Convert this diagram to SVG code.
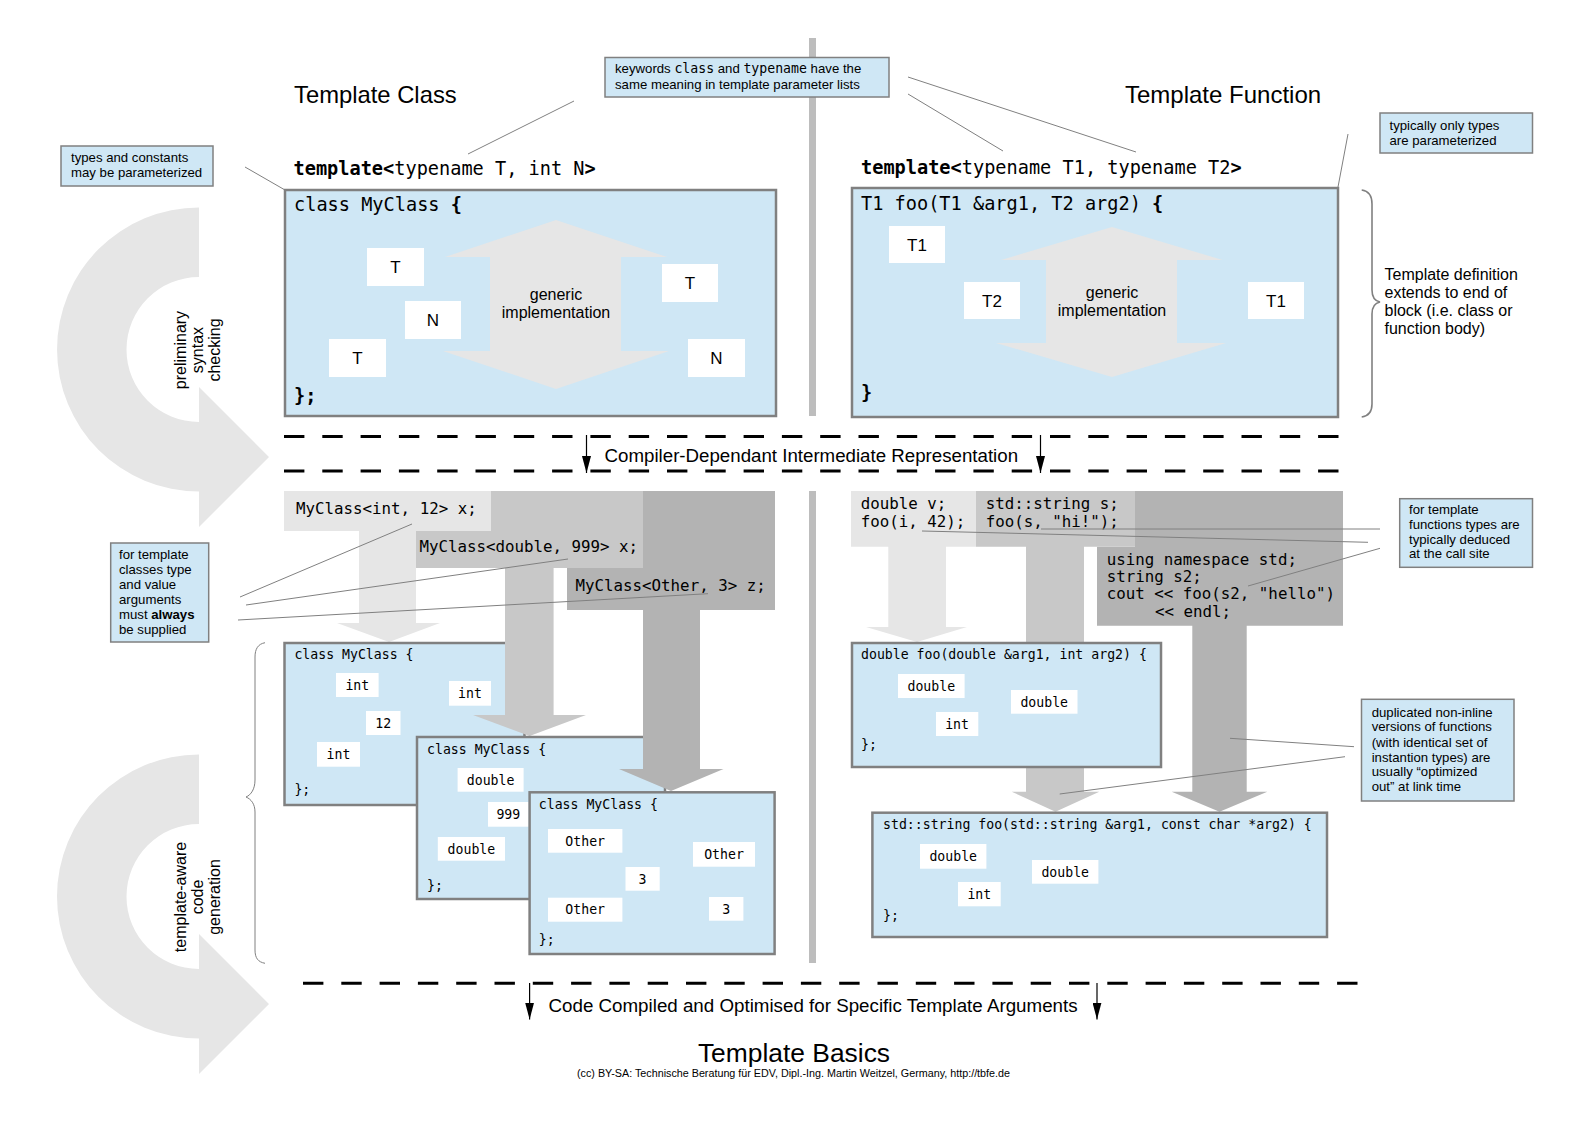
<svg xmlns="http://www.w3.org/2000/svg" width="1588" height="1123" viewBox="0 0 1588 1123">
<style>
.note{fill:#cfe7f5;stroke:#808080;stroke-width:1.5}
.box{fill:#cfe7f5;stroke:#808080;stroke-width:2.5}
.wb{fill:#fff}
.sans{font-family:"Liberation Sans",Arial,sans-serif;fill:#000}
.nt{font-family:"Liberation Sans",Arial,sans-serif;font-size:13.2px;fill:#000}
.mono{font-family:"DejaVu Sans Mono","Liberation Mono",monospace;fill:#000}
.big{font-size:18.6px}
.mid{font-size:15.8px}
.sm{font-size:13.2px}
.lbl{font-family:"Liberation Sans",Arial,sans-serif;font-size:17px;text-anchor:middle}
.ml{font-family:"DejaVu Sans Mono","Liberation Mono",monospace;font-size:13.2px;text-anchor:middle}
.con{stroke:#808080;stroke-width:1;fill:none}
.dash{stroke:#000;stroke-width:3;stroke-dasharray:20.4 17.9;fill:none}
.arr{stroke:#000;stroke-width:1.2;fill:none}
.g1{fill:#e6e6e6}
.g2{fill:#c8c8c8}
.g3{fill:#b3b3b3}
.b{font-weight:bold}
</style>
<defs>
<marker id="ah" viewBox="0 0 17 9" refX="17" refY="4.5" markerWidth="17" markerHeight="9" markerUnits="userSpaceOnUse" orient="auto">
<path d="M0,0 L17,4.5 L0,9 Z" fill="#000"/>
</marker>
</defs>
<rect width="1588" height="1123" fill="#fff"/>

<!-- dividers -->
<g id="dividers" fill="#bdbdbd">
<rect x="809" y="38" width="7" height="378"/>
<rect x="809" y="491" width="7" height="472"/>
</g>

<!-- left process arrows -->
<g id="arrow-syntax">
<path class="g1" d="M199,207.5 A142,142 0 0 0 199,491.5 L199,527 L269,457 L199,387 L199,422 A72.5,72.5 0 0 1 199,277 Z"/>
<text class="sans" font-size="16" text-anchor="middle" transform="translate(186,350) rotate(-90)">preliminary</text>
<text class="sans" font-size="16" text-anchor="middle" transform="translate(203,350) rotate(-90)">syntax</text>
<text class="sans" font-size="16" text-anchor="middle" transform="translate(220,350) rotate(-90)">checking</text>
</g>
<g id="arrow-codegen">
<path class="g1" d="M199,754.5 A142,142 0 0 0 199,1038.5 L199,1074 L269,1004 L199,934 L199,969 A72.5,72.5 0 0 1 199,824 Z"/>
<text class="sans" font-size="16" text-anchor="middle" transform="translate(186,897) rotate(-90)">template-aware</text>
<text class="sans" font-size="16" text-anchor="middle" transform="translate(203,897) rotate(-90)">code</text>
<text class="sans" font-size="16" text-anchor="middle" transform="translate(220,897) rotate(-90)">generation</text>
</g>

<!-- titles -->
<g id="titles">
<text class="sans" x="294" y="103" font-size="23.8">Template Class</text>
<text class="sans" x="1125" y="103" font-size="24">Template Function</text>
<text class="sans" x="794" y="1061.5" font-size="26.4" text-anchor="middle">Template Basics</text>
<text class="sans" x="793.5" y="1076.5" font-size="10" text-anchor="middle" textLength="433" lengthAdjust="spacingAndGlyphs">(cc) BY-SA: Technische Beratung für EDV, Dipl.-Ing. Martin Weitzel, Germany, http://tbfe.de</text>
</g>

<!-- notes -->
<g id="note-keywords">
<rect class="note" x="605" y="57.5" width="284" height="39.5"/>
<text class="nt" x="615" y="73">keywords <tspan class="mono">class</tspan> and <tspan class="mono">typename</tspan> have the</text>
<text class="nt" x="615" y="88.5">same meaning in template parameter lists</text>
</g>
<g id="note-types-constants">
<rect class="note" x="61" y="146" width="152" height="40"/>
<text class="nt" x="71" y="162">types and constants</text>
<text class="nt" x="71" y="177">may be parameterized</text>
</g>
<g id="note-only-types">
<rect class="note" x="1380" y="113" width="152.5" height="40"/>
<text class="nt" x="1389.5" y="130">typically only types</text>
<text class="nt" x="1389.5" y="145">are parameterized</text>
</g>
<g id="note-class-args">
<rect class="note" x="110.7" y="543" width="98" height="99"/>
<text class="nt" x="119" y="559">for template</text>
<text class="nt" x="119" y="574">classes type</text>
<text class="nt" x="119" y="589">and value</text>
<text class="nt" x="119" y="604">arguments</text>
<text class="nt" x="119" y="619">must <tspan class="b">always</tspan></text>
<text class="nt" x="119" y="633.5">be supplied</text>
</g>
<g id="note-deduced">
<rect class="note" x="1399.7" y="498.7" width="132.8" height="68.6"/>
<text class="nt" x="1409" y="514">for template</text>
<text class="nt" x="1409" y="528.5">functions types are</text>
<text class="nt" x="1409" y="543.5">typically deduced</text>
<text class="nt" x="1409" y="558">at the call site</text>
</g>
<g id="note-duplicated">
<rect class="note" x="1361.5" y="699.3" width="152.5" height="101.7"/>
<text class="nt" x="1371.7" y="716.7">duplicated non-inline</text>
<text class="nt" x="1371.7" y="731.3">versions of functions</text>
<text class="nt" x="1371.7" y="746.7">(with identical set of</text>
<text class="nt" x="1371.7" y="761.7">instantion types) are</text>
<text class="nt" x="1371.7" y="776">usually “optimized</text>
<text class="nt" x="1371.7" y="790.5">out” at link time</text>
</g>

<!-- template class definition -->
<g id="template-class">
<text class="mono big" x="293.5" y="174.5"><tspan class="b">template&lt;</tspan>typename T, int N<tspan class="b">&gt;</tspan></text>
<rect class="box" x="285" y="190" width="491" height="226"/>
<text class="mono big" x="294" y="211">class MyClass <tspan class="b">{</tspan></text>
<text class="mono big b" x="294" y="402">};</text>
<path class="g1" d="M556,220 L667,257 L621,257 L621,351 L669,351 L556,389 L443,351 L490,351 L490,257 L445,257 Z"/>
<text class="sans" font-size="16" text-anchor="middle" x="556" y="300">generic</text>
<text class="sans" font-size="16" text-anchor="middle" x="556" y="318">implementation</text>
<rect class="wb" x="367" y="248" width="57" height="38"/><text class="lbl" x="395.5" y="273">T</text>
<rect class="wb" x="405" y="301" width="56" height="38"/><text class="lbl" x="433" y="326">N</text>
<rect class="wb" x="329" y="339" width="57" height="38"/><text class="lbl" x="357.5" y="364">T</text>
<rect class="wb" x="662" y="264" width="56" height="38"/><text class="lbl" x="690" y="289">T</text>
<rect class="wb" x="688" y="339" width="57" height="38"/><text class="lbl" x="716.5" y="364">N</text>
</g>

<!-- template function definition -->
<g id="template-function">
<text class="mono big" x="861" y="174"><tspan class="b">template&lt;</tspan>typename T1, typename T2<tspan class="b">&gt;</tspan></text>
<rect class="box" x="852" y="188" width="486" height="229"/>
<text class="mono big" x="861" y="210">T1 foo(T1 &amp;arg1, T2 arg2) <tspan class="b">{</tspan></text>
<text class="mono big b" x="861" y="399">}</text>
<path class="g1" d="M1112,227 L1222.6,260 L1177,260 L1177,343 L1226,343 L1112,377 L996,343 L1046,343 L1046,260 L1001,260 Z"/>
<text class="sans" font-size="16" text-anchor="middle" x="1112" y="298">generic</text>
<text class="sans" font-size="16" text-anchor="middle" x="1112" y="316">implementation</text>
<rect class="wb" x="889" y="226" width="56" height="37"/><text class="lbl" x="917" y="250.5">T1</text>
<rect class="wb" x="964" y="282" width="56" height="37"/><text class="lbl" x="992" y="306.5">T2</text>
<rect class="wb" x="1248" y="282" width="56" height="37"/><text class="lbl" x="1276" y="306.5">T1</text>
</g>

<!-- right brace and text -->
<g id="brace-definition">
<path d="M1361.7,190 C1369,191 1372,196 1372,204 L1372,290 C1372,297 1375,301 1380,302 C1375,303 1372,307 1372,314 L1372,404 C1372,412 1369,416 1361.7,417" fill="none" stroke="#808080" stroke-width="1.6"/>
<text class="sans" font-size="16" x="1384.5" y="280">Template definition</text>
<text class="sans" font-size="16" x="1384.5" y="298">extends to end of</text>
<text class="sans" font-size="16" x="1384.5" y="316">block (i.e. class or</text>
<text class="sans" font-size="16" x="1384.5" y="334">function body)</text>
</g>

<!-- left brace -->
<g id="brace-instances">
<path d="M265,642.7 C258,644 255,649 255,657 L255,780 C255,789 251,795 246,797 C251,799 255,804 255,812 L255,950 C255,958 258,962 265,963.3" fill="none" stroke="#808080" stroke-width="1"/>
</g>

<!-- IR separator -->
<g id="ir-separator">
<line class="dash" x1="284" y1="436.5" x2="1342" y2="436.5"/>
<line class="dash" x1="284" y1="471" x2="1342" y2="471"/>
<line class="arr" x1="586.5" y1="435" x2="586.5" y2="473" marker-end="url(#ah)"/>
<line class="arr" x1="1040.5" y1="435" x2="1040.5" y2="473" marker-end="url(#ah)"/>
<text class="sans" font-size="18.7" x="604.6" y="461.5">Compiler-Dependant Intermediate Representation</text>
</g>

<!-- compiled separator -->
<g id="compiled-separator">
<line class="dash" x1="303" y1="983.3" x2="1360" y2="983.3"/>
<line class="arr" x1="529.6" y1="983" x2="529.6" y2="1019.5" marker-end="url(#ah)"/>
<line class="arr" x1="1097" y1="983" x2="1097" y2="1019.5" marker-end="url(#ah)"/>
<text class="sans" font-size="18.75" x="548.5" y="1011.5">Code Compiled and Optimised for Specific Template Arguments</text>
</g>

<!-- class instantiations -->
<g id="use-int-12">
<path class="g1" d="M284,491 L491,491 L491,531 L416,531 L416,623 L440,623 L389,642 L337,623 L359,623 L359,531 L284,531 Z"/>
<text class="mono mid" x="296" y="514">MyClass&lt;int, 12&gt; x;</text>
</g>
<g id="inst-int-12">
<rect class="box" x="284.5" y="643" width="240" height="162"/>
<text class="mono sm" x="294.4" y="659">class MyClass {</text>
<rect class="wb" x="336" y="673" width="42.6" height="24"/><text class="ml" x="357.3" y="689.5">int</text>
<rect class="wb" x="449" y="681" width="42" height="24.7"/><text class="ml" x="470" y="697.5">int</text>
<rect class="wb" x="366" y="711" width="34.5" height="24"/><text class="ml" x="383.2" y="727.5">12</text>
<rect class="wb" x="317" y="742" width="43" height="24.7"/><text class="ml" x="338.5" y="758.5">int</text>
<text class="mono sm" x="294.4" y="794">};</text>
</g>
<g id="use-double-999">
<path class="g2" d="M491,491 L643,491 L643,568 L553.6,568 L553.6,715 L586,715 L529.6,736 L473,715 L505,715 L505,568 L416,568 L416,531 L491,531 Z"/>
<text class="mono mid" x="419.4" y="551.7">MyClass&lt;double, 999&gt; x;</text>
</g>
<g id="inst-double-999">
<rect class="box" x="417" y="737" width="248" height="162"/>
<text class="mono sm" x="427" y="754">class MyClass {</text>
<rect class="wb" x="457.6" y="768" width="66" height="23.7"/><text class="ml" x="490.6" y="784.5">double</text>
<rect class="wb" x="488" y="802" width="40.6" height="24.7"/><text class="ml" x="508.3" y="818.5">999</text>
<rect class="wb" x="437.8" y="837" width="67.2" height="23.7"/><text class="ml" x="471.4" y="853.5">double</text>
<text class="mono sm" x="427" y="890">};</text>
</g>
<g id="use-other-3">
<path class="g3" d="M643,491 L775,491 L775,610 L700,610 L700,769 L723.5,769 L671,791 L619,769 L643,769 L643,610 L567,610 L567,568 L643,568 Z"/>
<text class="mono mid" x="575.5" y="590.7">MyClass&lt;Other, 3&gt; z;</text>
</g>
<g id="inst-other-3">
<rect class="box" x="529.6" y="792.3" width="245" height="161.7"/>
<text class="mono sm" x="538.8" y="809">class MyClass {</text>
<rect class="wb" x="548" y="829" width="74.4" height="23.7"/><text class="ml" x="585.2" y="845.5">Other</text>
<rect class="wb" x="693" y="842" width="62" height="24.7"/><text class="ml" x="724" y="858.5">Other</text>
<rect class="wb" x="625.5" y="867" width="34.2" height="23.7"/><text class="ml" x="642.6" y="883.5">3</text>
<rect class="wb" x="548" y="897.7" width="74.4" height="24"/><text class="ml" x="585.2" y="914">Other</text>
<rect class="wb" x="709" y="897" width="34.4" height="23.7"/><text class="ml" x="726.2" y="913.5">3</text>
<text class="mono sm" x="538.8" y="944">};</text>
</g>

<!-- function instantiations -->
<g id="use-string">
<path class="g3" d="M1135,491 L1343,491 L1343,625.7 L1246.7,625.7 L1246.7,791.7 L1267.3,791.7 L1219.5,811.7 L1171.7,791.7 L1192.3,791.7 L1192.3,625.7 L1097,625.7 L1097,546.7 L1135,546.7 Z"/>
<text class="mono mid" x="1106.7" y="564.5">using namespace std;</text>
<text class="mono mid" x="1106.7" y="581.7">string s2;</text>
<text class="mono mid" x="1106.7" y="599.2">cout &lt;&lt; foo(s2, "hello")</text>
<text class="mono mid" x="1155" y="616.5">&lt;&lt; endl;</text>
</g>
<g id="use-std-string">
<path class="g2" d="M976,491 L1135,491 L1135,546.7 L1084,546.7 L1084,791.7 L1099.3,791.7 L1055.5,811.7 L1011.7,791.7 L1026,791.7 L1026,546.7 L976,546.7 Z"/>
<text class="mono mid" x="985.7" y="509.3">std::string s;</text>
<text class="mono mid" x="985.7" y="526.7">foo(s, "hi!");</text>
</g>
<g id="use-double">
<path class="g1" d="M851,491 L976,491 L976,546.7 L946,546.7 L946,627 L967,627 L917,642 L866,627 L888.3,627 L888.3,546.7 L851,546.7 Z"/>
<text class="mono mid" x="860.7" y="509.3">double v;</text>
<text class="mono mid" x="860.7" y="526.7">foo(i, 42);</text>
</g>
<g id="inst-foo-double">
<rect class="box" x="852" y="643" width="309" height="124"/>
<text class="mono sm" x="861" y="659">double foo(double &amp;arg1, int arg2) {</text>
<rect class="wb" x="898" y="674" width="66.6" height="24"/><text class="ml" x="931.3" y="690.5">double</text>
<rect class="wb" x="1011" y="690" width="66.5" height="23.7"/><text class="ml" x="1044.2" y="706.5">double</text>
<rect class="wb" x="936" y="712" width="42.3" height="24"/><text class="ml" x="957.1" y="728.5">int</text>
<text class="mono sm" x="861" y="749">};</text>
</g>
<g id="inst-foo-string">
<rect class="box" x="872.4" y="812.7" width="454.6" height="124.3"/>
<text class="mono sm" x="883" y="829">std::string foo(std::string &amp;arg1, const char *arg2) {</text>
<rect class="wb" x="920" y="844" width="66.4" height="24.7"/><text class="ml" x="953.2" y="860.5">double</text>
<rect class="wb" x="1032" y="860" width="66.4" height="23.7"/><text class="ml" x="1065.2" y="876.5">double</text>
<rect class="wb" x="958" y="882" width="42.7" height="24.3"/><text class="ml" x="979.3" y="898.5">int</text>
<text class="mono sm" x="883" y="920">};</text>
</g>

<!-- connectors -->
<g id="connectors">
<line class="con" x1="245" y1="167" x2="285" y2="190"/>
<line class="con" x1="574" y1="101" x2="468" y2="154"/>
<line class="con" x1="908" y1="77" x2="1136" y2="152"/>
<line class="con" x1="908" y1="94" x2="1003" y2="151"/>
<line class="con" x1="1348" y1="134" x2="1338" y2="187"/>
<line class="con" x1="240" y1="597" x2="412" y2="524"/>
<line class="con" x1="246" y1="605" x2="568" y2="559"/>
<line class="con" x1="238" y1="620" x2="708" y2="593.7"/>
<line class="con" x1="1041" y1="529" x2="1380" y2="529"/>
<polyline class="con" points="922,531 975,532.3 1368,542.3"/>
<line class="con" x1="1380" y1="548.3" x2="1248" y2="586"/>
<line class="con" x1="1230" y1="738.3" x2="1354" y2="746.7" stroke-width="2"/>
<line class="con" x1="1345" y1="756.7" x2="1059.7" y2="794"/>
</g>
</svg>
